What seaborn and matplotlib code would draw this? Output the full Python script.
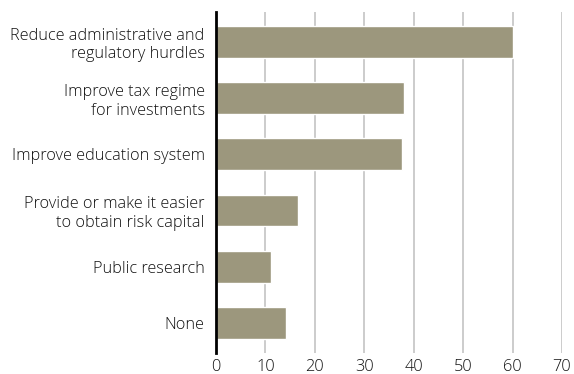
import matplotlib
matplotlib.use("Agg")
import matplotlib.pyplot as plt
import seaborn as sns
import pandas as pd

categories = [
    "Reduce administrative and\nregulatory hurdles",
    "Improve tax regime\nfor investments",
    "Improve education system",
    "Provide or make it easier\nto obtain risk capital",
    "Public research",
    "None",
]
values = [60.0, 38.0, 37.6, 16.6, 11.1, 14.2]
xticks = [0, 10, 20, 30, 40, 50, 60, 70]

sns.set_theme(style="white")
plt.rcParams["font.family"] = ["Open Sans", "DejaVu Sans"]

df = pd.DataFrame({"category": categories, "value": values})

fig = plt.figure(figsize=(5.74, 3.74), dpi=100)
ax = fig.add_axes([0.376, 0.057, 0.603, 0.911])

for x in xticks[1:]:
    ax.axvline(x, color="#c4c4c4", lw=1.2, zorder=0)

sns.barplot(data=df, x="value", y="category", color="#9c977d", saturation=1,
            width=0.565, ax=ax, zorder=2)

ax.set_xlim(0, 70)
ax.set_ylim(5.53, -0.53)
ax.set_xticks(xticks)
ax.set_xlabel("")
ax.set_ylabel("")
for s in ["top", "right", "bottom"]:
    ax.spines[s].set_visible(False)
ax.spines["left"].set_color("black")
ax.spines["left"].set_linewidth(2)
ax.spines["left"].set_zorder(5)
ax.tick_params(axis="both", length=0, labelcolor="#111111")
ax.tick_params(axis="y", pad=8, labelsize=11.7)
ax.tick_params(axis="x", pad=4.5, labelsize=11.8)
for lbl in ax.get_yticklabels():
    lbl.set_horizontalalignment("right")
    lbl.set_multialignment("right")
    lbl.set_linespacing(1.22)
    lbl.set_fontweight("light")
for lbl in ax.get_xticklabels():
    lbl.set_fontweight("light")

fig.savefig("out.png", dpi=100)
